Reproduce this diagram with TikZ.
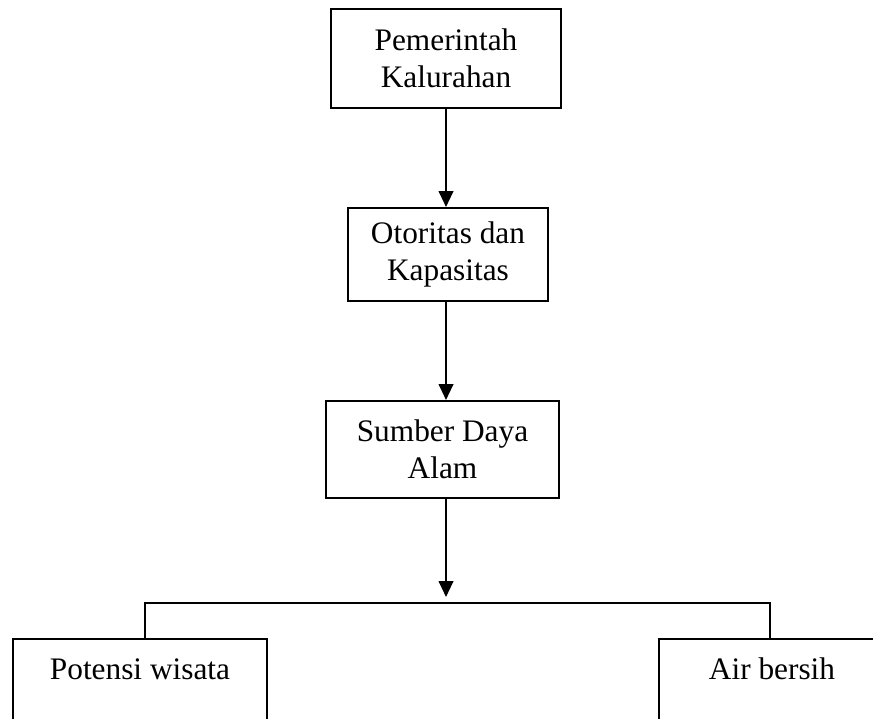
\documentclass[tikz,border=0pt]{standalone}
\usepackage{fontspec}
\setmainfont{Liberation Serif}
\usetikzlibrary{arrows.meta}
\begin{document}
\begin{tikzpicture}[x=0.75pt,y=-0.75pt,
  box/.style={draw,line width=1.5pt,align=center,inner sep=0pt,
    font=\fontsize{23.5}{27.75}\selectfont},
  botbox/.style={draw,line width=1.5pt,anchor=north,inner ysep=0pt,
    text height=30pt,text depth=62pt,font=\fontsize{23.5}{27.75}\selectfont},
  arr/.style={line width=1.5pt,-{Triangle[length=12pt,width=11pt]}},
  ln/.style={line width=1.5pt}]
\useasboundingbox (0,0) rectangle (873,718);
\clip (0,0) rectangle (873,718);
\node[box,minimum width=172.5pt,minimum height=74.25pt] (b1) at (446,58.5) {Pemerintah\\Kalurahan};
\node[box,minimum width=150pt,minimum height=69.75pt] (b2) at (448,254.5) {Otoritas dan\\Kapasitas};
\node[box,minimum width=174.75pt,minimum height=72.75pt] (b3) at (442.5,449.5) {Sumber Daya\\Alam};
\node[botbox,minimum width=190.5pt] (pw) at (140,638) {Potensi wisata};
\node[botbox,minimum width=169.5pt] (ab) at (772,638) {Air bersih};
\coordinate (ah) at (446,597);
\coordinate (hl) at (145,603);
\coordinate (hr) at (770,603);
\draw[arr] (b1.south -| ah) -- (b2.north -| ah);
\draw[arr] (b2.south -| ah) -- (b3.north -| ah);
\draw[arr] (b3.south -| ah) -- (ah);
\draw[ln] (hl |- pw.north) -- (hl) -- (hr) -- (hr |- ab.north);
\end{tikzpicture}
\end{document}
